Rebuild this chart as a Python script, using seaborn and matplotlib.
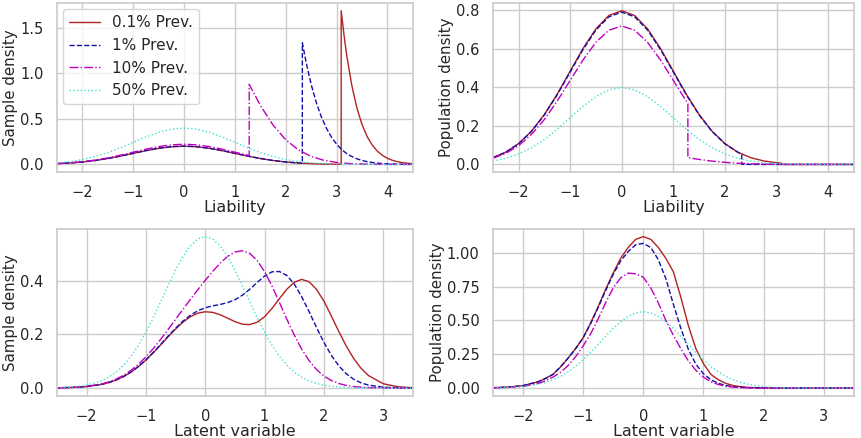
import numpy as np
import matplotlib
matplotlib.use("Agg")
import matplotlib.pyplot as plt
import seaborn as sns

# ---- data ----
labels = ["0.1% Prev.", "1% Prev.", "10% Prev.", "50% Prev."]
colors = ["#b22222", "#1010a8", "#bf00bf", "#40e0d0"]
styles = ["-", "--", "-.", ":"]

# liability axis (top row)
x_grid = [-2.5, -2.25, -2, -1.75, -1.5, -1.25, -1, -0.75, -0.5, -0.25, 0, 0.25, 0.5,
          0.75, 1, 1.25, 1.5, 1.75, 2, 2.25, 2.5, 2.75, 3, 3.25, 3.5, 3.75, 4, 4.25, 4.5]

liab_x_01 = x_grid[:23] + [3.09, 3.09, 3.15, 3.2, 3.3, 3.4, 3.5, 3.6, 3.7, 3.8, 3.9,
                           4.0, 4.1, 4.2, 4.3, 4.4, 4.5]
samp_liab_01 = [0.0088, 0.0159, 0.0270, 0.0432, 0.0648, 0.0914, 0.1211, 0.1507, 0.1762,
                0.1935, 0.1997, 0.1935, 0.1762, 0.1507, 0.1211, 0.0914, 0.0648, 0.0432,
                0.0270, 0.0159, 0.0088, 0.0045, 0.0022, 0.0017, 1.684, 1.397, 1.192,
                0.862, 0.616, 0.437, 0.306, 0.213, 0.146, 0.0995, 0.067, 0.0447, 0.0295,
                0.0193, 0.0125, 0.008]

liab_x_1 = x_grid[:20] + [2.326, 2.326, 2.4, 2.5, 2.6, 2.7, 2.8, 2.9, 3.0, 3.1, 3.2,
                          3.3, 3.4, 3.5, 3.6, 3.7, 3.8, 3.9, 4.0, 4.25, 4.5]
samp_liab_1 = [0.0089, 0.0160, 0.0273, 0.0436, 0.0654, 0.0922, 0.1222, 0.1521, 0.1778,
               0.1953, 0.2015, 0.1953, 0.1778, 0.1521, 0.1222, 0.0922, 0.0654, 0.0436,
               0.0273, 0.0160, 0.0135, 1.333, 1.120, 0.876, 0.679, 0.521, 0.396, 0.298,
               0.222, 0.163, 0.119, 0.0862, 0.0616, 0.0437, 0.0306, 0.0213, 0.0146,
               0.0100, 0.0067, 0.0024, 0.0008]

liab_x_10 = x_grid[:16] + [1.2816, 1.2816] + x_grid[16:]
samp_liab_10 = [0.0097, 0.0176, 0.0300, 0.0479, 0.0720, 0.1015, 0.1344, 0.1673, 0.1956,
                0.2148, 0.2216, 0.2148, 0.1956, 0.1673, 0.1344, 0.1015, 0.0975, 0.8775,
                0.6476, 0.4314, 0.2700, 0.1587, 0.0876, 0.0455, 0.0222, 0.0102, 0.0044,
                0.0018, 0.0007, 0.0002, 0.0001]

samp_liab_50 = [0.0175, 0.0317, 0.0540, 0.0863, 0.1295, 0.1827, 0.2420, 0.3011, 0.3521,
                0.3867, 0.3989, 0.3867, 0.3521, 0.3011, 0.2420, 0.1827, 0.1295, 0.0863,
                0.0540, 0.0317, 0.0175, 0.0091, 0.0044, 0.0020, 0.0009, 0.0004, 0.0001,
                0.00005, 0.00002]

pop_x_01 = x_grid[:23] + [3.09, 3.09, 3.5, 4.0, 4.5]
pop_liab_01 = [0.0350, 0.0634, 0.1079, 0.1724, 0.2588, 0.3649, 0.4835, 0.6017, 0.7034,
               0.7726, 0.7971, 0.7726, 0.7034, 0.6017, 0.4835, 0.3649, 0.2588, 0.1724,
               0.1079, 0.0634, 0.0350, 0.0182, 0.0089, 0.0067, 0.0, 0.0, 0.0, 0.0]

pop_x_1 = x_grid[:20] + [2.326, 2.326, 2.5, 3.0, 3.5, 4.0, 4.5]
pop_liab_1 = [0.0347, 0.0628, 0.1069, 0.1708, 0.2565, 0.3616, 0.4791, 0.5963, 0.6971,
              0.7656, 0.7899, 0.7656, 0.6971, 0.5963, 0.4791, 0.3616, 0.2565, 0.1708,
              0.1069, 0.0628, 0.0528, 0.0005, 0.0004, 0.0001, 0.0, 0.0, 0.0]

pop_liab_10 = [0.0316, 0.0571, 0.0972, 0.1553, 0.2331, 0.3288, 0.4355, 0.5421, 0.6337,
               0.6960, 0.7181, 0.6960, 0.6337, 0.5421, 0.4355, 0.3288, 0.3159, 0.0351,
               0.0259, 0.0173, 0.0108, 0.0063, 0.0035, 0.0018, 0.0009, 0.0004, 0.0002,
               0.0001, 0.00003, 0.00001, 0.0]

pop_liab_50 = samp_liab_50

# latent variable axis (bottom row)
x_latent = [-2.5, -2.25, -2.0, -1.75, -1.625, -1.5, -1.375, -1.25, -1.125, -1.0, -0.875,
            -0.75, -0.625, -0.5, -0.375, -0.25, -0.125, 0.0, 0.125, 0.25, 0.375, 0.5,
            0.625, 0.75, 0.875, 1.0, 1.125, 1.25, 1.375, 1.5, 1.625, 1.75, 1.875, 2.0,
            2.125, 2.25, 2.375, 2.5, 2.625, 2.75, 3.0, 3.25, 3.5]

samp_lat_01 = [0.0005, 0.0018, 0.0052, 0.0132, 0.0201, 0.0297, 0.0426, 0.0591, 0.0797,
               0.1038, 0.1313, 0.1608, 0.1911, 0.2197, 0.2453, 0.2656, 0.2788, 0.2841,
               0.2818, 0.2731, 0.2604, 0.2474, 0.2378, 0.2362, 0.2451, 0.2656, 0.2964,
               0.3327, 0.3681, 0.3940, 0.4048, 0.3960, 0.3677, 0.3240, 0.2685, 0.2110,
               0.1571, 0.1105, 0.0735, 0.0464, 0.0157, 0.0043, 0.0010]
samp_lat_1 = [0.0006, 0.0018, 0.0052, 0.0133, 0.0203, 0.0300, 0.0430, 0.0597, 0.0804,
              0.1048, 0.1325, 0.1624, 0.1931, 0.2226, 0.2492, 0.2712, 0.2878, 0.2990,
              0.3060, 0.3113, 0.3180, 0.3287, 0.3457, 0.3677, 0.3933, 0.4172, 0.4329,
              0.4341, 0.4195, 0.3876, 0.3405, 0.2846, 0.2258, 0.1702, 0.1217, 0.0826,
              0.0533, 0.0328, 0.0191, 0.0107, 0.0029, 0.0007, 0.0001]
samp_lat_10 = [0.0006, 0.0020, 0.0057, 0.0147, 0.0224, 0.0331, 0.0474, 0.0658, 0.0886,
               0.1159, 0.1471, 0.1816, 0.2180, 0.2556, 0.2932, 0.3302, 0.3662, 0.4011,
               0.4343, 0.4648, 0.4900, 0.5070, 0.5116, 0.5018, 0.4753, 0.4338, 0.3801,
               0.3189, 0.2565, 0.1974, 0.1451, 0.1022, 0.0689, 0.0446, 0.0277, 0.0165,
               0.0095, 0.0052, 0.0028, 0.0014, 0.0003, 0.0001, 0.0]
samp_lat_50 = [0.0011, 0.0036, 0.0103, 0.0264, 0.0402, 0.0595, 0.0852, 0.1182, 0.1591,
               0.2076, 0.2624, 0.3215, 0.3818, 0.4394, 0.4902, 0.5300, 0.5555, 0.5642,
               0.5555, 0.5300, 0.4902, 0.4394, 0.3818, 0.3215, 0.2624, 0.2076, 0.1591,
               0.1182, 0.0852, 0.0595, 0.0402, 0.0264, 0.0168, 0.0103, 0.0062, 0.0036,
               0.0020, 0.0011, 0.0006, 0.0003, 0.0001, 0.0, 0.0]

pop_lat_01 = [0.002, 0.006, 0.017, 0.045, 0.07, 0.10, 0.155, 0.22, 0.29, 0.37, 0.48,
              0.60, 0.73, 0.85, 0.96, 1.04, 1.10, 1.12, 1.10, 1.04, 0.96, 0.86, 0.67,
              0.46, 0.29, 0.18, 0.10, 0.06, 0.033, 0.017, 0.009, 0.004, 0.002, 0.001,
              0.0005, 0.0002, 0.0001, 0.0, 0.0, 0.0, 0.0, 0.0, 0.0]
pop_lat_1 = [0.002, 0.006, 0.017, 0.045, 0.07, 0.10, 0.155, 0.22, 0.29, 0.37, 0.475,
             0.595, 0.72, 0.84, 0.94, 1.01, 1.06, 1.07, 1.04, 0.95, 0.81, 0.62, 0.44,
             0.285, 0.175, 0.105, 0.06, 0.034, 0.018, 0.009, 0.004, 0.002, 0.001,
             0.0005, 0.0002, 0.0001, 0.0, 0.0, 0.0, 0.0, 0.0, 0.0, 0.0]
pop_lat_10 = [0.001, 0.004, 0.011, 0.033, 0.052, 0.08, 0.115, 0.165, 0.23, 0.31, 0.40,
              0.51, 0.63, 0.74, 0.815, 0.85, 0.845, 0.82, 0.74, 0.63, 0.50, 0.39, 0.29,
              0.20, 0.13, 0.08, 0.045, 0.025, 0.012, 0.006, 0.003, 0.001, 0.0005, 0.0002,
              0.0001, 0.0, 0.0, 0.0, 0.0, 0.0, 0.0, 0.0, 0.0]
pop_lat_50 = samp_lat_50

# ---- plotting ----
sns.set_theme(style="whitegrid")
plt.rcParams["font.family"] = ["DejaVu Sans"]

fig = plt.figure(figsize=(8.62, 4.38), dpi=100)
ax_tl = fig.add_axes([0.066, 0.607, 0.413, 0.386])
ax_tr = fig.add_axes([0.5716, 0.607, 0.4191, 0.386])
ax_bl = fig.add_axes([0.066, 0.097, 0.413, 0.380])
ax_br = fig.add_axes([0.5716, 0.097, 0.4191, 0.380])

panels = [
    (ax_tl, [liab_x_01, liab_x_1, liab_x_10, x_grid],
     [samp_liab_01, samp_liab_1, samp_liab_10, samp_liab_50], "Liability", "Sample density"),
    (ax_tr, [pop_x_01, pop_x_1, liab_x_10, x_grid],
     [pop_liab_01, pop_liab_1, pop_liab_10, pop_liab_50], "Liability", "Population density"),
    (ax_bl, [x_latent] * 4,
     [samp_lat_01, samp_lat_1, samp_lat_10, samp_lat_50], "Latent variable", "Sample density"),
    (ax_br, [x_latent] * 4,
     [pop_lat_01, pop_lat_1, pop_lat_10, pop_lat_50], "Latent variable", "Population density"),
]

for i, (ax, xs, ys, xlab, ylab) in enumerate(panels):
    for j in range(4):
        sns.lineplot(x=xs[j], y=ys[j], ax=ax, color=colors[j], linestyle=styles[j],
                     linewidth=1.0, estimator=None, sort=False,
                     label=labels[j] if i == 0 else None, legend=False)
    ax.set_xlabel(xlab, fontsize=11.5, labelpad=0)
    ax.set_ylabel(ylab, fontsize=10.8, labelpad=1.5)
    ax.tick_params(labelsize=10.5, pad=3.5)

ax_tl.set_xlim(-2.5, 4.5)
ax_tr.set_xlim(-2.5, 4.5)
ax_bl.set_xlim(-2.5, 3.5)
ax_br.set_xlim(-2.5, 3.5)
ax_bl.set_yticks([0.0, 0.2, 0.4])
ax_br.set_yticks([0.0, 0.25, 0.5, 0.75, 1.0])

ax_tl.legend(loc="upper left", fontsize=11, frameon=True, labelspacing=0.5,
             borderaxespad=0.4)

fig.savefig("out.png", dpi=100)
